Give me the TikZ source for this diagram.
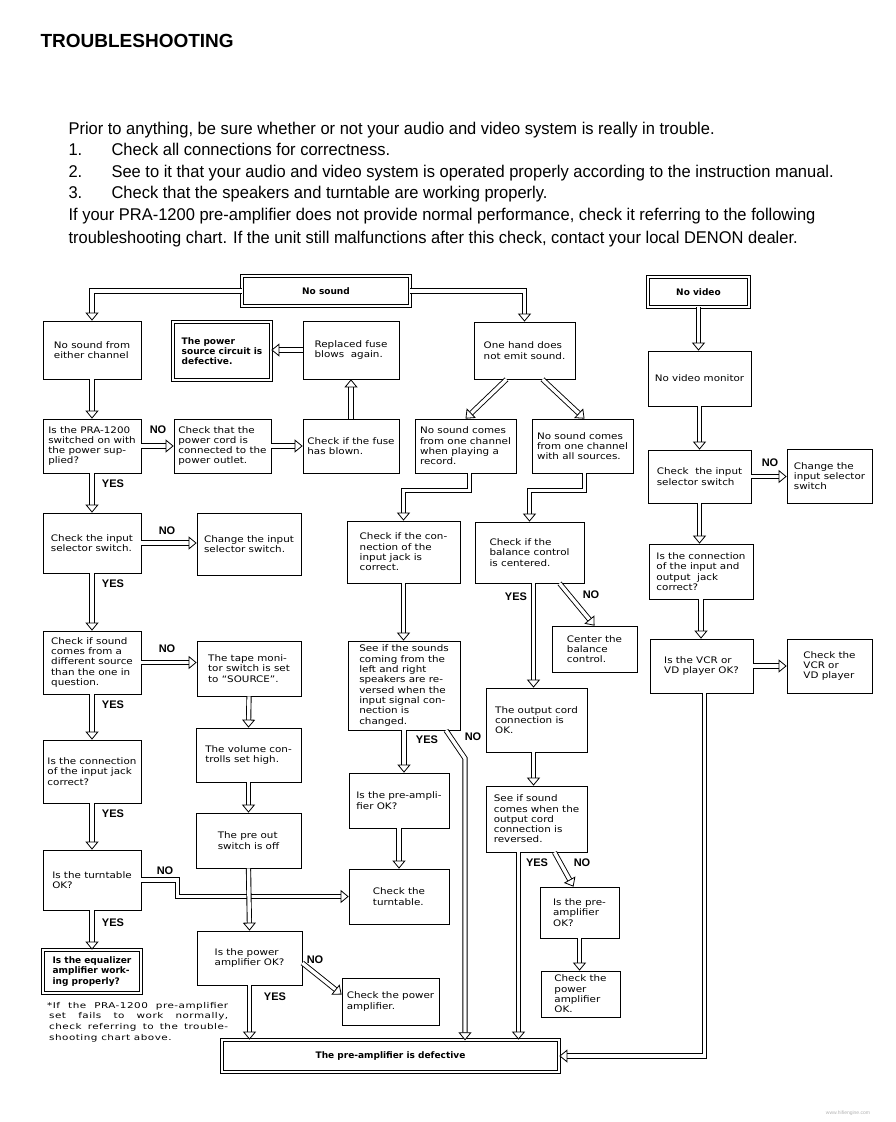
\documentclass[tikz,border=0pt]{standalone}
\usepackage{fontspec}
\setmainfont{Liberation Sans}
\newfontfamily\bodyfont[FakeStretch=0.97]{Liberation Sans}
\newfontfamily\chartfont[FakeStretch=1.15]{DejaVu Sans}
\newfontfamily\notefont[FakeStretch=1.3, LetterSpace=6]{DejaVu Sans}
\newfontfamily\boxbold{DejaVu Sans}
\usetikzlibrary{arrows.meta}

\tikzset{
    box/.style={draw, line width=0.7pt, inner sep=2pt, align=left,
        font=\chartfont\fontsize{9}{10.3}\selectfont},
    endbox/.style={box, double, double distance=2.2pt,
        font=\boxbold\bfseries\fontsize{9}{10.3}\selectfont},
    wh/.style 2 args={minimum width=#1, minimum height=#2},
    flow/.style={double, double distance=3.4pt, line width=0.9pt,
        -{Triangle[open, fill=white, length=8pt, width=13pt, line width=0.8pt]}},
    lbl/.style={font=\bfseries\fontsize{11}{11}\selectfont},
    para/.style={anchor=base west, font=\bodyfont\fontsize{17}{21.5}\selectfont}
}

\begin{document}
\begin{tikzpicture}[x=1pt, y=-1pt]
    \useasboundingbox (0,0) rectangle (896,1122);

    % heading and introduction
    \node[anchor=base west, font=\bfseries\fontsize{19}{19}\selectfont] (title) at (37,47) {TROUBLESHOOTING};
    \node[para] (p0) at (65,134) {Prior to anything, be sure whether or not your audio and video system is really in trouble.};
    \node[para] (n1) at (65,155) {1.};
    \node[para] (p1) at (108,155) {Check all connections for correctness.};
    \node[para] (n2) at (65,177) {2.};
    \node[para] (p2) at (108,177) {See to it that your audio and video system is operated properly according to the instruction manual.};
    \node[para] (n3) at (65,198) {3.};
    \node[para] (p3) at (108,198) {Check that the speakers and turntable are working properly.};
    \node[para] (p4) at (65,220) {If your PRA-1200 pre-amplifier does not provide normal performance, check it referring to the following};
    \node[para] (p5) at (65,243) {troubleshooting chart. If the unit still malfunctions after this check, contact your local DENON dealer.};

    % start boxes
    \node[endbox, wh={168pt}{30pt}] (nosound) at (326,291) {No sound};
    \node[endbox, wh={101pt}{30pt}] (novideo) at (698.5,292) {No video};

    % row 1
    \node[box, wh={98pt}{58pt}] (either) at (92,350) {No sound from\\either channel};
    \node[endbox, wh={98pt}{58pt}] (powerdef) at (222,351) {The power\\source circuit is\\defective.};
    \node[box, wh={96pt}{58pt}] (fuseagain) at (351,350) {Replaced fuse\\blows\ \ again.};
    \node[box, wh={101pt}{57pt}] (onehand) at (524.5,350.5) {One hand does\\not emit sound.};
    \node[box, wh={103pt}{55pt}] (vmonitor) at (699.5,378.5) {No video monitor};

    % row 2
    \node[box, wh={98pt}{54pt}] (poweron) at (92,446) {Is the PRA-1200\\switched on with\\the power sup-\\plied?};
    \node[box, wh={97pt}{54pt}] (cord) at (222.5,446) {Check that the\\power cord is\\connected to the\\power outlet.};
    \node[box, wh={96pt}{54pt}] (fuse) at (351,446) {Check if the fuse\\has blown.};
    \node[box, wh={101pt}{54pt}] (record) at (465.5,446) {No sound comes\\from one channel\\when playing a\\record.};
    \node[box, wh={101pt}{54pt}] (allsrc) at (582.5,446) {No sound comes\\from one channel\\with all sources.};
    \node[box, wh={103pt}{53pt}] (vselect) at (699.5,476.5) {Check\ \ the input\\selector switch};
    \node[box, wh={85pt}{54pt}] (vchange) at (829.5,476) {Change the\\input selector\\switch};

    % row 3
    \node[box, wh={98pt}{60pt}] (selector) at (92,543) {Check the input\\selector switch.};
    \node[box, wh={104pt}{62pt}] (changesel) at (249,544) {Change the input\\selector switch.};
    \node[box, wh={113pt}{62pt}] (jack) at (403.5,552) {Check if the con-\\nection of the\\input jack is\\correct.};
    \node[box, wh={109pt}{61pt}] (balance) at (529.5,552.5) {Check if the\\balance control\\is centered.};
    \node[box, wh={104pt}{55pt}] (vjack) at (701,571.5) {Is the connection\\of the input and\\output\ \ jack\\correct?};

    % row 4
    \node[box, wh={85pt}{46pt}] (center) at (594.5,649) {Center the\\balance\\control.};
    \node[box, wh={98pt}{63pt}] (source) at (92,662.5) {Check if sound\\comes from a\\different source\\than the one in\\question.};
    \node[box, wh={104pt}{55pt}] (tape) at (249,668.5) {The tape moni-\\tor switch is set\\to “SOURCE”.};
    \node[box, wh={112pt}{89pt}] (swap) at (404,685.5) {See if the sounds\\coming from the\\left and right\\speakers are re-\\versed when the\\input signal con-\\nection is\\changed.};
    \node[box, wh={103pt}{54pt}] (vcr) at (701.5,666) {Is the VCR or\\VD player OK?};
    \node[box, wh={85pt}{54pt}] (vcrcheck) at (829.5,666) {Check the\\VCR or\\VD player};
    \node[box, wh={101pt}{64pt}] (cordok) at (536.5,720) {The output cord\\connection is\\OK.};

    % row 5
    \node[box, wh={98pt}{63pt}] (inputjack) at (92,771.5) {Is the connection\\of the input jack\\correct?};
    \node[box, wh={105pt}{54pt}] (volume) at (248.5,755) {The volume con-\\trolls set high.};
    \node[box, wh={100pt}{55pt}] (preleft) at (399,800.5) {Is the pre-ampli-\\fier OK?};
    \node[box, wh={101pt}{66pt}] (reversed) at (536.5,819) {See if sound\\comes when the\\output cord\\connection is\\reversed.};
    \node[box, wh={105pt}{55pt}] (preout) at (248.5,840.5) {The pre out\\switch is off};

    % row 6
    \node[box, wh={98pt}{60pt}] (turntable) at (92,880) {Is the turntable\\OK?};
    \node[box, wh={100pt}{55pt}] (checkturn) at (399,896.5) {Check the\\turntable.};
    \node[box, wh={79pt}{51pt}] (preright) at (579.5,912.5) {Is the pre-\\amplifier\\OK?};
    \node[box, wh={105pt}{54pt}] (poweramp) at (249.5,958) {Is the power\\amplifier OK?};
    \node[endbox, wh={98pt}{43pt}] (equalizer) at (92,971.5) {Is the equalizer\\amplifier work-\\ing properly?};
    \node[box, wh={97pt}{47pt}] (checkpower) at (390.5,1001.5) {Check the power\\amplifier.};
    \node[box, wh={79pt}{46pt}] (checkpowerok) at (580.5,994) {Check the\\power\\amplifier\\OK.};
    \node[endbox, wh={337pt}{32pt}] (defective) at (390.5,1056) {The pre-amplifier is defective};

    % footnote and mark
    \node[anchor=north west, inner sep=0pt, align=left, font=\notefont\fontsize{8}{10.6}\selectfont] (note) at (47,1002)
        {\makebox[181pt][s]{*If the PRA-1200 pre-amplifier}\\\hspace*{2pt}\makebox[179pt][s]{set fails to work normally,}\\
         \hspace*{2pt}\makebox[179pt][s]{check referring to the trouble-}\\\hspace*{2pt}shooting chart above.};
    \node[font=\fontsize{5}{5}\selectfont, text=black!30] (mark) at (848,1113) {www.hifiengine.com};

    % audio connectors
    \draw[flow] (nosound.west) -| (either.north);
    \draw[flow] (nosound.east) -| (onehand.north);
    \draw[flow] (either.south) -- (poweron.north);
    \draw[flow] (poweron.east) -- (cord.west);
    \draw[flow] (cord.east) -- (fuse.west);
    \draw[flow] (fuse.north) -- (fuseagain.south);
    \draw[flow] (fuseagain.west) -- (fuseagain.west -| powerdef.east);
    \draw[flow] (poweron.south) -- (selector.north);
    \draw[flow] (selector.east) -- (selector.east -| changesel.west);
    \draw[flow] (selector.south) -- (source.north);
    \draw[flow] (source.east) -- (source.east -| tape.west);
    \draw[flow] (source.south) -- (inputjack.north);
    \draw[flow] (tape.south) -- (volume.north);
    \draw[flow] (volume.south) -- (preout.north);
    \draw[flow] (inputjack.south) -- (turntable.north);
    \draw[flow] (turntable.east) -- ++(36,0) |- (checkturn.west);
    \draw[flow] (preout.south) -- (poweramp.north);
    \draw[flow] (turntable.south) -- (equalizer.north);
    \draw[flow] ([yshift=-5pt]poweramp.east) -- ([yshift=7pt]checkpower.west);
    \draw[flow] (poweramp.south) -- (poweramp.south |- defective.north);

    \draw[flow] ([xshift=-18pt]onehand.south) -- (record.north);
    \draw[flow] ([xshift=18pt]onehand.south) -- ([xshift=2pt]allsrc.north);
    \draw[flow] ([xshift=4pt]record.south) -- ++(0,17) -| (jack.north);
    \draw[flow] ([xshift=2pt]allsrc.south) -- ++(0,17) -| (balance.north);
    \draw[flow] (jack.south) -- (jack.south |- swap.north);
    \draw[flow] ([xshift=4pt]balance.south) -- ([xshift=4pt]balance.south |- cordok.north);
    \draw[flow] ([xshift=30pt]balance.south) -- (center.north);
    \draw[flow] (swap.south) -- (swap.south |- preleft.north);
    \draw[flow] ([xshift=42pt]swap.south) -- ++(19,28) -- ++(0,282);
    \draw[flow] (preleft.south) -- (checkturn.north);
    \draw[flow] ([xshift=-3pt]cordok.south) -- ([xshift=-3pt]reversed.north);
    \draw[flow] ([xshift=-18pt]reversed.south) -- ([xshift=-18pt]reversed.south |- defective.north);
    \draw[flow] ([xshift=18pt]reversed.south) -- ([xshift=-6pt]preright.north);
    \draw[flow] (preright.south) -- (preright.south |- checkpowerok.north);

    % video connectors
    \draw[flow] (novideo.south) -- (novideo.south |- vmonitor.north);
    \draw[flow] (vmonitor.south) -- (vselect.north);
    \draw[flow] (vselect.east) -- (vselect.east -| vchange.west);
    \draw[flow] (vselect.south) -- (vselect.south |- vjack.north);
    \draw[flow] (vjack.south) -- (vjack.south |- vcr.north);
    \draw[flow] (vcr.east) -- (vcrcheck.west);
    \draw[flow] ([xshift=3pt]vcr.south) |- (defective.east);

    % YES / NO
    \node[lbl] at (158,430) {NO};
    \node[lbl] at (113,484) {YES};
    \node[lbl] at (167,531) {NO};
    \node[lbl] at (113,584) {YES};
    \node[lbl] at (167,649) {NO};
    \node[lbl] at (113,705) {YES};
    \node[lbl] at (113,814) {YES};
    \node[lbl] at (165,871) {NO};
    \node[lbl] at (113,923) {YES};
    \node[lbl] at (315,960) {NO};
    \node[lbl] at (275,997) {YES};
    \node[lbl] at (516,597) {YES};
    \node[lbl] at (591,595) {NO};
    \node[lbl] at (427,740) {YES};
    \node[lbl] at (473,737) {NO};
    \node[lbl] at (537,863) {YES};
    \node[lbl] at (582,863) {NO};
    \node[lbl] at (770,463) {NO};
\end{tikzpicture}
\end{document}
